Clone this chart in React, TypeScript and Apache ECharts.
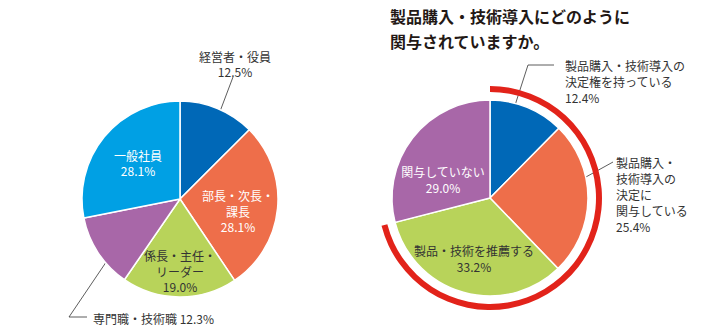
import React, { useEffect, useRef } from "react";
import * as echarts from "echarts";

// ---- data ----
const LEFT_CATEGORIES = ["経営者・役員", "部長・次長・課長", "係長・主任・リーダー", "専門職・技術職", "一般社員"];
const LEFT_LABEL_NAMES = ["経営者・役員", "部長・次長・\n課長", "係長・主任・\nリーダー", "専門職・技術職", "一般社員"];
const LEFT_VALUES = [12.5, 28.1, 19.0, 12.3, 28.1];

const RIGHT_CATEGORIES = ["製品購入・技術導入の決定権を持っている", "製品購入・技術導入の決定に関与している", "製品・技術を推薦する", "関与していない"];
const RIGHT_LABEL_NAMES = ["製品購入・技術導入の\n決定権を持っている", "製品購入・\n技術導入の\n決定に\n関与している", "製品・技術を推薦する", "関与していない"];
const RIGHT_VALUES = [12.4, 25.4, 33.2, 29.0];
// the red arc marks those involved (first three categories)
const INVOLVED_COUNT = 3;

const TITLE = "製品購入・技術導入にどのように\n関与されていますか。";

// ---- styles / layout ----
const LEFT_COLORS = ["#0068b7", "#ee6e4a", "#b8d35a", "#a867a8", "#00a0e4"];
const RIGHT_COLORS = ["#0068b7", "#ee6e4a", "#b8d35a", "#a867a8"];
const LEFT_TEXT_COLORS = ["#333", "#fff", "#333", "#333", "#fff"];
const RIGHT_TEXT_COLORS = ["#333", "#333", "#333", "#fff"];
const LEFT_INSIDE = [false, true, true, false, true];
const RIGHT_INSIDE = [false, false, true, true];

type LP = { x: number; y: number; align: string; line?: number[][] };
const LEFT_LABEL_POS: LP[] = [
  { x: 235, y: 64, align: "center", line: [[216, 122], [233, 77]] },
  { x: 238, y: 211, align: "center" },
  { x: 180, y: 271, align: "center" },
  { x: 93, y: 318, align: "left", line: [[119, 243], [69, 317], [87, 317]] },
  { x: 138, y: 163, align: "center" },
];
const RIGHT_LABEL_POS: LP[] = [
  { x: 565, y: 81, align: "left", line: [[508, 127], [528, 65], [554, 65]] },
  { x: 616, y: 194, align: "left", line: [[557, 193], [613, 162]] },
  { x: 474, y: 258, align: "center" },
  { x: 443, y: 179, align: "center" },
];

const FONT = '"Noto Sans CJK JP", "Noto Sans", sans-serif';

function buildData(names: string[], values: number[], labelNames: string[], colors: string[], textColors: string[], inside: boolean[], singleLine: number[]) {
  return values.map((v, i) => ({
    name: names[i],
    value: v,
    itemStyle: { color: colors[i] },
    label: {
      position: inside[i] ? "inside" : "outside",
      color: textColors[i],
      overflow: "none",
      formatter: labelNames[i] + (singleLine.includes(i) ? " " : "\n") + v.toFixed(1) + "%",
    },
    labelLine: { show: !inside[i] },
  }));
}

function layoutFn(pos: LP[]) {
  return (params: any) => {
    const p = pos[params.dataIndex];
    const out: any = { x: p.x, y: p.y, align: p.align, verticalAlign: "middle", width: 200 };
    if (p.line) out.labelLinePoints = p.line;
    return out;
  };
}

export default function App() {
  const ref = useRef<HTMLDivElement>(null);
  useEffect(() => {
    if (!ref.current) return;
    const chart = echarts.init(ref.current, null, { renderer: "svg" });
    const involved = RIGHT_VALUES.slice(0, INVOLVED_COUNT).reduce((a, b) => a + b, 0);
    const rest = RIGHT_VALUES.slice(INVOLVED_COUNT).reduce((a, b) => a + b, 0);
    const baseLabel = {
      fontFamily: FONT,
      fontSize: 12,
      lineHeight: 15.5,
      overflow: "none",
    };
    chart.setOption({
      animation: false,
      backgroundColor: "#fff",
      title: {
        text: TITLE,
        left: 390,
        top: 3,
        padding: 0,
        textStyle: { fontFamily: FONT, fontSize: 16, fontWeight: "bold", color: "#231815", lineHeight: 25 },
      },
      series: [
        {
          type: "pie",
          center: [180, 199],
          radius: [0, 98],
          startAngle: 90,
          clockwise: true,
          itemStyle: { borderColor: "#fff", borderWidth: 1.5 },
          label: { ...baseLabel },
          labelLine: { lineStyle: { color: "#333", width: 0.8 } },
          labelLayout: layoutFn(LEFT_LABEL_POS),
          data: buildData(LEFT_CATEGORIES, LEFT_VALUES, LEFT_LABEL_NAMES, LEFT_COLORS, LEFT_TEXT_COLORS, LEFT_INSIDE, [3]),
        },
        {
          type: "pie",
          center: [490, 198],
          radius: [0, 98],
          startAngle: 90,
          clockwise: true,
          itemStyle: { borderColor: "#fff", borderWidth: 1.5 },
          label: { ...baseLabel, lineHeight: 16 },
          labelLine: { lineStyle: { color: "#333", width: 0.8 } },
          labelLayout: layoutFn(RIGHT_LABEL_POS),
          data: buildData(RIGHT_CATEGORIES, RIGHT_VALUES, RIGHT_LABEL_NAMES, RIGHT_COLORS, RIGHT_TEXT_COLORS, RIGHT_INSIDE, []),
        },
        {
          type: "pie",
          center: [490, 198],
          radius: [106, 112],
          startAngle: 90,
          clockwise: true,
          silent: true,
          label: { show: false },
          labelLine: { show: false },
          data: [
            { name: "関与している", value: involved, itemStyle: { color: "#e2231a" } },
            { name: "関与していない", value: rest, itemStyle: { color: "rgba(0,0,0,0)" } },
          ],
        },
      ],
    });
    return () => chart.dispose();
  }, []);
  return <div ref={ref} style={{ position: "fixed", left: 0, top: 0, width: 720, height: 332 }} />;
}
